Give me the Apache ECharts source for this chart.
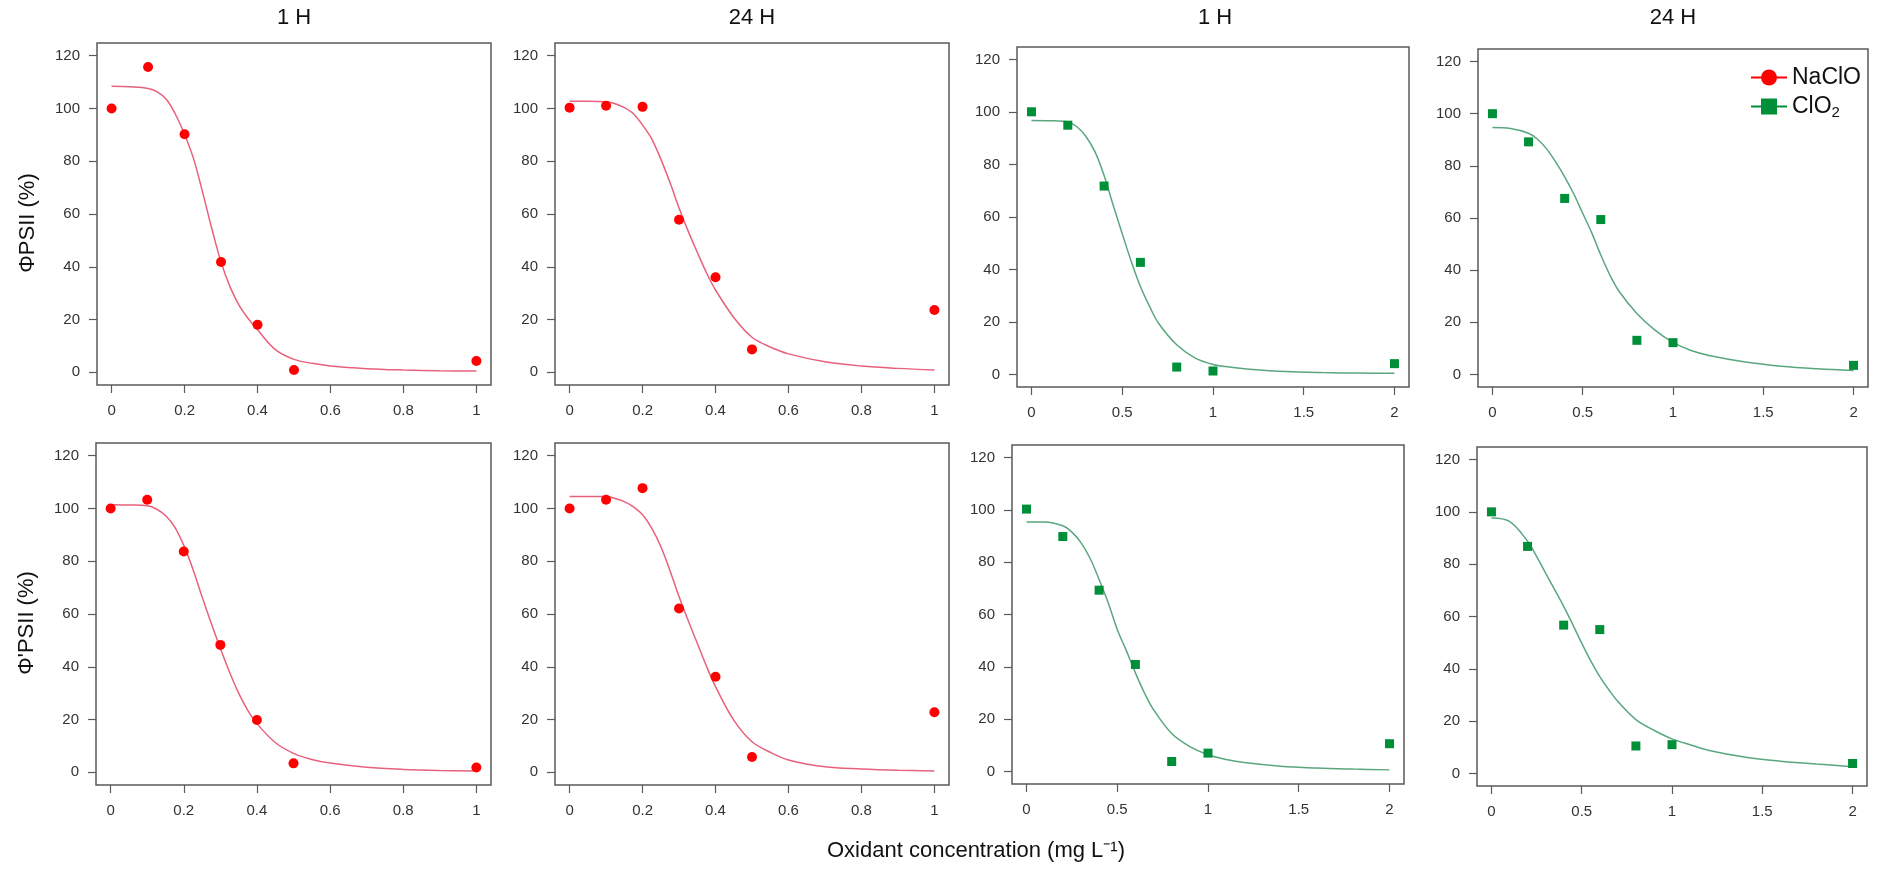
<!DOCTYPE html>
<html>
<head>
<meta charset="utf-8">
<script src="https://cdn.jsdelivr.net/npm/echarts@6/dist/echarts.min.js"></script>
<style>html,body{margin:0;padding:0;background:#fff}#c{width:1881px;height:871px}</style>
</head>
<body>
<div id="c"></div>
<script>
// ---------- DATA ----------
const colTitles = ['1 H', '24 H', '1 H', '24 H'];
const rowTitles = ['ΦPSII (%)', "Φ'PSII (%)"];
const xLabel = 'Oxidant concentration (mg L⁻¹)';
const legendNames = ['NaClO', 'ClO2'];

const naX = [0, 0.1, 0.2, 0.3, 0.4, 0.5, 1];
const clX = [0, 0.2, 0.4, 0.6, 0.8, 1, 2];
const naTicks = [0, 0.2, 0.4, 0.6, 0.8, 1];
const clTicks = [0, 0.5, 1, 1.5, 2];
const yTicks = [0, 20, 40, 60, 80, 100, 120];

// measured points
const phiNa1h  = [100, 115.7, 90.2, 41.8, 18.0, 0.9, 4.3];
const phiNa24h = [100.3, 101, 100.6, 57.8, 36.0, 8.7, 23.6];
const phiCl1h  = [100.1, 95, 71.8, 42.7, 2.8, 1.3, 4.1];
const phiCl24h = [100, 89.2, 67.5, 59.4, 13.1, 12.2, 3.5];
const phpNa1h  = [100, 103.3, 83.7, 48.3, 19.8, 3.4, 1.8];
const phpNa24h = [100, 103.3, 107.7, 62.1, 36.2, 5.8, 22.8];
const phpCl1h  = [100.3, 89.8, 69.3, 40.9, 3.8, 7.0, 10.6];
const phpCl24h = [100, 86.8, 56.7, 55.0, 10.5, 11.0, 3.8];

// fitted curves
const naCurveX = [0, 0.05, 0.1, 0.125, 0.15, 0.175, 0.2, 0.225, 0.25, 0.275, 0.3, 0.325, 0.35, 0.375, 0.4, 0.45, 0.5, 0.55, 0.6, 0.7, 0.8, 0.9, 1];
const clCurveX = [0, 0.1, 0.2, 0.25, 0.3, 0.35, 0.4, 0.45, 0.5, 0.55, 0.6, 0.65, 0.7, 0.8, 0.9, 1, 1.1, 1.2, 1.4, 1.6, 1.8, 2];
const fitPhiNa1h  = [108.4, 108.2, 107.6, 106.3, 103.5, 97.8, 90.2, 80.8, 68, 54.3, 41.8, 32.3, 25.3, 20.3, 16.1, 8.5, 4.9, 3.4, 2.4, 1.4, 0.9, 0.6, 0.5];
const fitPhiNa24h = [102.7, 102.7, 102.5, 101.8, 100.3, 98, 93.7, 88.5, 80.8, 72, 62.3, 53.5, 45.5, 37.8, 31.2, 20.8, 13.3, 9.6, 7, 4, 2.4, 1.5, 0.9];
const fitPhpNa1h  = [101.4, 101.3, 101, 99.8, 97.3, 93, 86, 77, 66.5, 56.5, 47, 38, 30, 23.5, 18.5, 11.3, 7.2, 4.9, 3.5, 1.9, 1.1, 0.7, 0.5];
const fitPhpNa24h = [104.5, 104.5, 104.5, 103.8, 102.6, 100.6, 97.6, 92.5, 85.6, 76.5, 66.6, 57.5, 48.9, 40.3, 32.5, 19.8, 11.6, 7.6, 4.7, 2.1, 1.3, 0.8, 0.5];
const fitPhiCl1h  = [96.8, 96.7, 96.2, 94.4, 90.7, 84.8, 75.8, 64.5, 53.6, 43, 33.5, 26, 19.5, 11.3, 6.3, 3.8, 2.7, 2, 1.1, 0.7, 0.5, 0.4];
const fitPhiCl24h = [94.7, 94.3, 92.5, 90.2, 86.5, 81.5, 75.8, 69.3, 61.8, 54.3, 45.8, 38.2, 32, 23.4, 17, 12.3, 9.2, 7.3, 4.8, 3.2, 2.2, 1.5];
const fitPhpCl1h  = [95.4, 95.4, 93.9, 91.5, 87.5, 81.5, 73.4, 64.5, 54.3, 46.2, 37.7, 30, 23.6, 14.5, 9.5, 6.4, 4.6, 3.4, 2, 1.3, 0.9, 0.6];
const fitPhpCl24h = [97.7, 96.4, 88.8, 83, 76.6, 70.3, 63.9, 57, 49.8, 43, 37, 32, 27.5, 20.6, 16.5, 13.2, 11, 8.9, 6.3, 4.7, 3.6, 2.6];

// ---------- LAYOUT / STYLE ----------
const FONT = "'Liberation Sans', Arial, sans-serif";
const RED = '#ff0000', RED_LINE = '#e8617c';
const GREEN = '#008f39', GREEN_LINE = '#5aa77f';
const boxes = [
  [97, 43, 394, 342], [555, 43, 394, 342], [1017, 47, 392, 340], [1478, 49, 390, 338],
  [96, 443, 395, 342], [555, 443, 394, 342], [1012, 445, 392, 339], [1477, 447, 390, 339]
];
const panels = [
  {x: naX, y: phiNa1h,  cx: naCurveX, cy: fitPhiNa1h,  kind: 'na'},
  {x: naX, y: phiNa24h, cx: naCurveX, cy: fitPhiNa24h, kind: 'na'},
  {x: clX, y: phiCl1h,  cx: clCurveX, cy: fitPhiCl1h,  kind: 'cl'},
  {x: clX, y: phiCl24h, cx: clCurveX, cy: fitPhiCl24h, kind: 'cl'},
  {x: naX, y: phpNa1h,  cx: naCurveX, cy: fitPhpNa1h,  kind: 'na'},
  {x: naX, y: phpNa24h, cx: naCurveX, cy: fitPhpNa24h, kind: 'na'},
  {x: clX, y: phpCl1h,  cx: clCurveX, cy: fitPhpCl1h,  kind: 'cl'},
  {x: clX, y: phpCl24h, cx: clCurveX, cy: fitPhpCl24h, kind: 'cl'}
];

const grid = [], xAxis = [], yAxis = [], series = [];
panels.forEach((p, i) => {
  const b = boxes[i];
  grid.push({left: b[0], top: b[1], width: b[2], height: b[3], show: true,
    borderColor: '#5a5a5a', borderWidth: 1.5, backgroundColor: 'transparent', containLabel: false});
  const isNa = p.kind === 'na';
  const ticks = isNa ? naTicks : clTicks;
  xAxis.push({type: 'value', gridIndex: i, position: 'bottom',
    min: isNa ? -0.04 : -0.08, max: isNa ? 1.04 : 2.08,
    axisLine: {show: false, onZero: false}, splitLine: {show: false},
    axisTick: {show: true, inside: false, length: 8, customValues: ticks, lineStyle: {color: '#5a5a5a', width: 1.2}},
    axisLabel: {customValues: ticks, margin: 18, fontSize: 15, color: '#333', fontFamily: FONT}
  });
  const yName = (i === 0) ? rowTitles[0] : (i === 4 ? rowTitles[1] : '');
  yAxis.push({type: 'value', gridIndex: i, position: 'left', min: -4.8, max: 124.8,
    axisLine: {show: false, onZero: false}, splitLine: {show: false},
    axisTick: {show: true, inside: false, length: 8, customValues: yTicks, lineStyle: {color: '#5a5a5a', width: 1.2}},
    axisLabel: {customValues: yTicks, margin: 17, fontSize: 15, color: '#333', fontFamily: FONT},
    name: yName, nameLocation: 'middle', nameRotate: 90, nameGap: 58,
    nameTextStyle: {fontSize: 22, color: '#111', fontFamily: FONT, padding: [0, 18, 0, 0]}
  });
  series.push({type: 'line', xAxisIndex: i, yAxisIndex: i,
    data: p.cx.map((x, k) => [x, p.cy[k]]),
    smooth: 0.35, symbol: 'none', showSymbol: false, silent: true, z: 2,
    lineStyle: {color: isNa ? RED_LINE : GREEN_LINE, width: 1.5}});
  series.push({type: 'scatter', xAxisIndex: i, yAxisIndex: i,
    data: p.x.map((x, k) => [x, p.y[k]]),
    symbol: isNa ? 'circle' : 'rect', symbolSize: isNa ? 10 : 9, z: 3,
    itemStyle: {color: isNa ? RED : GREEN, opacity: 1}});
});
// legend-only series (panel 4)
series.push({type: 'line', name: legendNames[0], xAxisIndex: 3, yAxisIndex: 3, data: [],
  symbol: 'circle', itemStyle: {color: RED}, lineStyle: {color: RED, width: 1.5}});
series.push({type: 'line', name: legendNames[1], xAxisIndex: 3, yAxisIndex: 3, data: [],
  symbol: 'rect', itemStyle: {color: GREEN}, lineStyle: {color: GREEN, width: 1.5}});

const colCenters = [294, 752, 1215, 1673];
const title = colTitles.map((t, i) => ({text: t, left: colCenters[i], top: 7, textAlign: 'center', padding: 0,
  textStyle: {fontSize: 22, fontWeight: 'normal', color: '#111', fontFamily: FONT}}));
title.push({text: xLabel, left: 976, top: 840, textAlign: 'center', padding: 0,
  textStyle: {fontSize: 22, fontWeight: 'normal', color: '#111', fontFamily: FONT}});

const chart = echarts.init(document.getElementById('c'), null, {renderer: 'canvas'});
chart.setOption({
  animation: false,
  backgroundColor: '#fff',
  title: title,
  grid: grid, xAxis: xAxis, yAxis: yAxis, series: series,
  legend: {data: legendNames, orient: 'vertical', left: 1750, top: 66,
    itemWidth: 36, itemHeight: 20, itemGap: 6, padding: 0,
    formatter: n => n === 'ClO2' ? 'ClO{sub|2}' : n,
    textStyle: {fontSize: 23, color: '#111', fontFamily: FONT,
      rich: {sub: {fontSize: 15, fontFamily: FONT, color: '#111', verticalAlign: 'bottom', padding: [12, 0, 0, 0]}}}
  }
});
</script>
</body>
</html>
